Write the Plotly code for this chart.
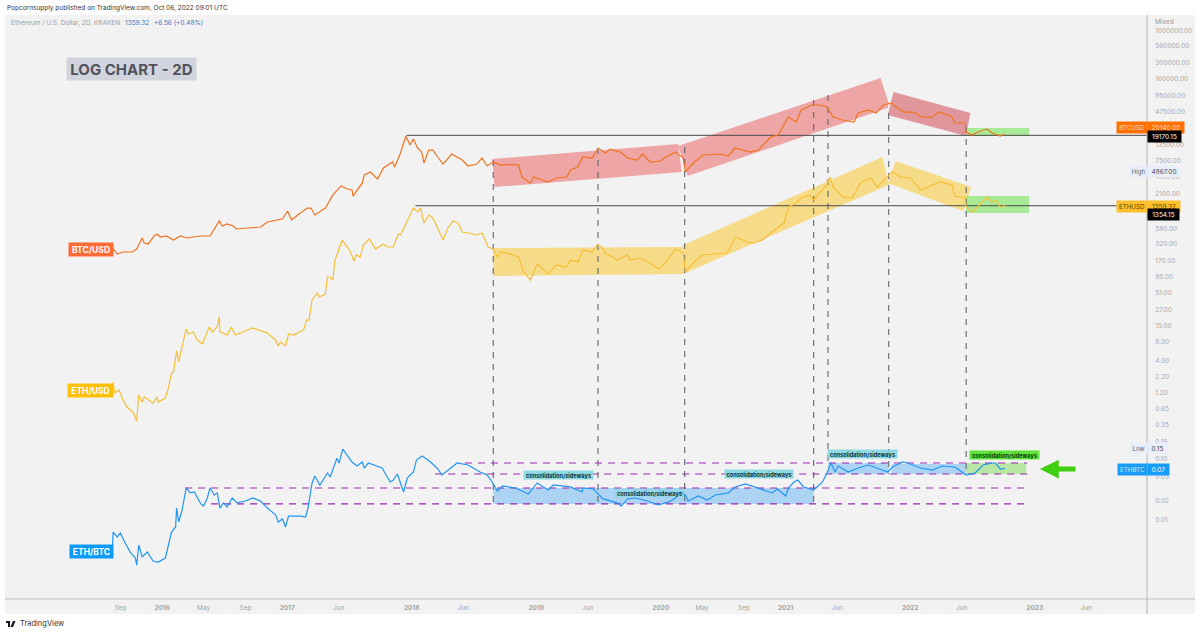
import plotly.graph_objects as go

# values
btc_dates = ["2015-08-09","2015-08-22","2015-09-08","2015-10-05","2015-10-18","2015-11-03","2015-11-09","2015-11-21","2015-12-08","2015-12-17","2015-12-26",
"2016-01-13","2016-02-03","2016-02-23","2016-03-13","2016-04-21","2016-05-20","2016-06-04","2016-06-16","2016-06-25","2016-07-09","2016-07-27","2016-08-05","2016-09-07","2016-10-15","2016-11-04","2016-12-18",
"2017-01-02","2017-01-14","2017-02-01","2017-03-01","2017-03-12","2017-03-23","2017-04-23","2017-05-15","2017-06-08","2017-06-26","2017-07-10","2017-07-13","2017-08-09","2017-08-15","2017-09-02","2017-09-23","2017-10-10","2017-11-06","2017-11-12","2017-11-29","2017-12-15","2017-12-27",
"2018-01-06","2018-01-18","2018-01-30","2018-02-06","2018-02-20","2018-03-04","2018-03-18","2018-04-03","2018-04-28","2018-05-29","2018-06-15","2018-07-11","2018-07-26","2018-08-10","2018-08-28","2018-09-18","2018-10-17","2018-11-10","2018-11-20","2018-12-15","2018-12-24",
"2019-02-05","2019-03-01","2019-04-01","2019-04-11","2019-05-03","2019-05-17","2019-06-14","2019-07-01","2019-07-22","2019-08-06","2019-09-05","2019-09-25","2019-10-24","2019-11-08","2019-12-01","2019-12-31",
"2020-01-15","2020-02-13","2020-03-07","2020-03-13","2020-04-05","2020-05-04","2020-06-24","2020-07-17","2020-08-06","2020-09-20","2020-10-13","2020-11-18","2020-12-10",
"2021-01-09","2021-02-01","2021-02-15","2021-03-07","2021-03-20","2021-04-12","2021-05-02","2021-05-20","2021-06-16","2021-07-20","2021-08-02","2021-09-01","2021-09-23","2021-10-14","2021-11-08","2021-11-13","2021-12-13",
"2022-01-10","2022-02-06","2022-03-05","2022-03-29","2022-05-03","2022-05-12","2022-06-11","2022-06-14","2022-07-01","2022-07-19","2022-08-14","2022-08-29","2022-09-22","2022-10-06"]
btc_close = [275,220,237,237,265,402,333,321,433,467,417,
433,372,433,402,433,433,608,762,631,681,631,564,585,608,734,822,
1110,791,955,1240,1240,955,1240,2030,2850,2540,2450,1950,3190,4300,4820,3700,5610,7020,5820,9850,18700,13300,
16700,11900,10200,6760,11000,11000,8480,6510,9500,7570,6040,6510,8170,6040,7020,6270,6400,6300,3990,3190,3990,
3310,3850,3990,5200,5820,8480,8170,11900,9850,11400,10200,8170,7570,9500,7020,7300,
8480,10200,8170,4820,6760,9150,9500,8810,11900,10200,11000,18000,19400,
38200,31700,49800,55700,60100,60100,55700,38200,34200,31700,44400,49800,44400,60100,64900,60100,46100,
46100,38200,38200,46100,38200,30500,30500,21700,19400,21700,24300,20900,18700,20140]

eth_dates = ["2015-08-09","2015-08-15","2015-08-27","2015-09-08","2015-09-20","2015-10-07","2015-10-18","2015-10-24","2015-11-03","2015-11-09","2015-12-05","2015-12-17","2015-12-20",
"2016-01-10","2016-01-19","2016-01-28","2016-02-03","2016-02-12","2016-02-18","2016-02-28","2016-03-11","2016-03-17","2016-04-01","2016-04-12","2016-04-27","2016-05-18","2016-05-27","2016-06-10","2016-06-16","2016-06-18","2016-07-09","2016-07-21","2016-08-02","2016-09-22","2016-11-04","2016-11-28","2016-12-06","2016-12-12","2016-12-27",
"2017-01-05","2017-01-20","2017-02-18","2017-02-27","2017-03-06","2017-03-15","2017-03-30","2017-04-05","2017-04-23","2017-04-29","2017-05-07","2017-05-15","2017-05-21","2017-05-27","2017-06-11","2017-06-25","2017-07-04","2017-07-16","2017-07-22","2017-08-03","2017-08-12","2017-08-30","2017-09-17","2017-10-10","2017-10-21","2017-11-08","2017-11-23","2017-11-29","2017-12-19",
"2018-01-06","2018-01-18","2018-01-27","2018-02-06","2018-02-20","2018-03-04","2018-04-03","2018-04-17","2018-05-02","2018-05-17","2018-05-29","2018-06-15","2018-07-11","2018-07-26","2018-08-13","2018-08-28","2018-09-09","2018-09-18","2018-10-08","2018-11-10","2018-11-25","2018-12-15",
"2019-01-04","2019-02-05","2019-03-01","2019-03-30","2019-04-11","2019-05-03","2019-05-17","2019-06-14","2019-06-28","2019-07-12","2019-07-22","2019-08-27","2019-09-25","2019-10-03","2019-11-02","2019-12-01","2019-12-25",
"2020-01-15","2020-02-13","2020-03-07","2020-03-13","2020-04-05","2020-05-01","2020-07-14","2020-08-06","2020-09-11","2020-09-30","2020-10-25","2020-11-18","2020-12-27",
"2021-01-09","2021-01-31","2021-02-15","2021-03-11","2021-03-24","2021-04-12","2021-05-02","2021-05-11","2021-05-20","2021-06-18","2021-07-15","2021-08-08","2021-09-07","2021-09-27","2021-10-27","2021-11-10","2021-12-03",
"2022-01-01","2022-02-01","2022-02-24","2022-03-29","2022-05-03","2022-05-12","2022-06-11","2022-06-14","2022-07-04","2022-07-30","2022-08-14","2022-08-29","2022-09-08","2022-09-22","2022-10-06"]
eth_close = [1.77,1.17,1.31,0.90,0.69,0.573,0.408,1.09,0.836,1.01,0.805,1.01,0.836,
0.97,1.42,2.49,2.59,5.71,3.77,6.64,13.1,10.8,11.7,8.63,7.43,14.1,11.7,14.1,20.5,11.7,10.4,14.1,10.4,13.6,11.2,8.63,6.89,8.0,6.89,
10.8,10.4,12.6,18.3,18.3,38.9,50.6,43.6,48.7,92.5,92.5,82.6,175,212,372,286,246,169,212,196,308,387,265,321,286,286,467,450,791,
1240,1070,1240,706,955,853,372,585,762,706,503,485,450,485,286,265,196,237,228,196,112,82.6,
151,104,145,135,175,163,256,237,308,286,228,175,212,175,189,157,125,
157,265,228,112,157,212,228,417,345,333,372,485,706,
1290,1500,1810,2030,1680,2270,2960,3990,2740,1880,1810,3190,3850,2740,3990,4867,3990,
3850,2450,2740,3310,2960,1950,1810,1290,1070,1560,1880,1560,1680,1290,1359.32]

ethbtc_dates = ["2015-08-08","2015-08-10","2015-08-22","2015-08-31","2015-09-14","2015-09-29","2015-10-14","2015-10-18","2015-10-24","2015-11-03","2015-11-18","2015-12-05","2015-12-20",
"2016-01-10","2016-01-19","2016-01-28","2016-02-09","2016-02-12","2016-02-18","2016-02-28","2016-03-11","2016-03-23","2016-04-04","2016-04-23","2016-05-01","2016-05-12","2016-05-20","2016-06-01","2016-06-10","2016-06-18","2016-06-28","2016-07-09","2016-07-24","2016-08-07","2016-09-01","2016-09-22","2016-10-15","2016-11-04","2016-11-28","2016-12-06","2016-12-18","2016-12-27",
"2017-01-05","2017-02-10","2017-02-24","2017-03-03","2017-03-15","2017-03-23","2017-04-07","2017-04-29","2017-05-07","2017-05-27","2017-06-02","2017-06-13","2017-07-10","2017-07-25","2017-08-09","2017-08-15","2017-08-27","2017-10-06","2017-10-30","2017-11-08","2017-11-20","2017-12-08","2017-12-19",
"2018-01-06","2018-01-15","2018-02-01","2018-02-25","2018-03-16","2018-03-31","2018-04-24","2018-05-14","2018-06-15","2018-07-20","2018-08-10","2018-08-25","2018-09-09","2018-09-24","2018-11-01","2018-12-09",
"2019-01-04","2019-02-05","2019-02-20","2019-04-11","2019-05-15","2019-05-18","2019-06-17","2019-07-16","2019-08-27","2019-09-07","2019-09-25","2019-10-19","2019-11-23","2019-12-25",
"2020-01-24","2020-02-13","2020-02-28","2020-03-13","2020-03-21","2020-04-20","2020-05-16","2020-06-09","2020-07-17","2020-08-06","2020-09-05","2020-09-30","2020-10-27","2020-11-23","2020-12-08",
"2021-01-01","2021-01-09","2021-01-25","2021-02-05","2021-02-23","2021-03-24","2021-04-19","2021-05-02","2021-05-14","2021-05-26","2021-06-04","2021-07-03","2021-08-02","2021-09-01","2021-10-01","2021-10-27","2021-11-10","2021-12-10","2021-12-24",
"2022-02-01","2022-03-08","2022-04-04","2022-05-12","2022-05-26","2022-06-14","2022-07-10","2022-08-03","2022-08-29","2022-09-08","2022-09-22","2022-10-06"]
ethbtc_close = [0.0038,0.00625,0.00518,0.00603,0.00413,0.00294,0.00235,0.0018,0.00383,0.00244,0.00294,0.0021,0.00202,
0.00235,0.00383,0.00625,0.00755,0.0154,0.0091,0.0143,0.0328,0.0272,0.0282,0.018,0.0166,0.0225,0.0328,0.0252,0.0272,0.0154,0.0187,0.016,0.0225,0.0187,0.0201,0.0225,0.0201,0.0154,0.0119,0.0091,0.0102,0.00755,
0.0114,0.0114,0.011,0.0154,0.0396,0.0515,0.0367,0.0576,0.0496,0.101,0.084,0.142,0.0873,0.075,0.0873,0.0696,0.084,0.0696,0.0411,0.0443,0.0555,0.0282,0.0478,
0.0598,0.094,0.109,0.0873,0.0696,0.0535,0.0696,0.084,0.0779,0.0598,0.0535,0.0411,0.0293,0.0354,0.0328,0.0262,
0.0396,0.0304,0.0367,0.0341,0.0282,0.0328,0.0316,0.0217,0.0187,0.0166,0.0217,0.0225,0.0201,0.0173,
0.0194,0.0225,0.0282,0.0252,0.0201,0.0243,0.0209,0.0252,0.0272,0.0341,0.0381,0.0341,0.0304,0.0272,0.0316,
0.0243,0.0328,0.0411,0.0443,0.0341,0.0304,0.0411,0.0576,0.084,0.0598,0.075,0.0598,0.0696,0.0779,0.067,0.0598,0.0723,0.0873,0.084,
0.0696,0.0645,0.075,0.0723,0.0645,0.0535,0.0576,0.0779,0.084,0.084,0.067,0.0686]

# drawn bands as (dates, prices, colour)
bands = [
    (["2018-08-25","2020-02-21","2020-03-02","2018-09-01"], [7870,13800,4820,2740], "rgba(230,60,60,0.42)"),
    (["2020-02-21","2021-10-06","2021-10-30","2021-10-27","2020-03-20"], [12800,166000,64900,53700,4150], "rgba(230,60,60,0.42)"),
    (["2021-11-13","2022-06-26","2022-06-14","2021-10-27"], [97900,44400,18700,41200], "rgba(200,40,50,0.45)"),
    (["2018-08-28","2020-03-07","2020-03-10","2018-08-28"], [276,286,104,96], "rgba(250,200,50,0.55)"),
    (["2020-03-07","2021-10-12","2021-10-30","2020-03-13"], [308,8480,2960,108], "rgba(250,200,50,0.55)"),
    (["2021-11-19","2022-06-29","2022-06-05","2021-10-27"], [7300,2740,1110,3190], "rgba(250,200,50,0.55)"),
    (["2022-06-17","2022-12-16","2022-12-16","2022-06-17"], [25300,25300,18700,18700], "rgba(90,225,50,0.48)"),
    (["2022-06-14","2022-12-16","2022-12-16","2022-06-14"], [1950,1950,1030,1030], "rgba(90,225,50,0.48)"),
    (["2018-08-28","2021-03-24","2021-03-24","2018-08-28"], [0.0328,0.0328,0.018,0.018], "rgba(33,150,243,0.33)"),
    (["2021-05-05","2021-10-30","2021-10-30","2021-05-05"], [0.084,0.084,0.0555,0.0555], "rgba(33,150,243,0.33)"),
    (["2021-11-07","2022-06-14","2022-06-14","2021-11-07"], [0.0809,0.0809,0.0555,0.0555], "rgba(33,150,243,0.33)"),
    (["2022-06-14","2022-12-07","2022-12-07","2022-06-14"], [0.084,0.084,0.0555,0.0555], "rgba(110,215,70,0.45)"),
]

level_values = [0.084, 0.0555, 0.0328, 0.018]
level_starts = ["2018-06-06", "2018-03-11", "2016-03-08", "2016-05-23"]
level_end = "2022-12-10"

event_dates = ["2018-08-28","2019-07-01","2020-03-11","2021-03-24","2021-05-05","2021-10-30","2022-06-14"]
event_tops = [7570,11900,12400,72600,87500,44400,26200]
event_bottoms = [0.018,0.018,0.018,0.018,0.084,0.0555,0.0555]

ref_values = [19170.15, 1354.15]
ref_starts = ["2017-12-17", "2018-01-12"]

y_ticks = [1000000,560000,300000,160000,85000,47500,13500,7500,4100,2100,580,320,170,95,51,27,15,8,4,2.2,1.2,0.65,0.35,0.19,0.10,0.05,0.02,0.01]
x_ticks = ["2015-09-01","2016-01-01","2016-05-01","2016-09-01","2017-01-01","2017-06-01","2018-01-01","2018-06-01","2019-01-01","2019-06-01","2020-01-01","2020-05-01","2020-09-01","2021-01-01","2021-06-01","2022-01-01","2022-06-01","2023-01-01","2023-06-01"]
x_labels = ["Sep","<b>2016</b>","May","Sep","<b>2017</b>","Jun","<b>2018</b>","Jun","<b>2019</b>","Jun","<b>2020</b>","May","Sep","<b>2021</b>","Jun","<b>2022</b>","Jun","<b>2023</b>","Jun"]

W, H = 1200, 634
L, R, T, B = 5, 1147, 15, 599
FONT = "Inter, Roboto, sans-serif"


def px(x):
    return (x - L) / (R - L)


def py(y):
    return (B - y) / (B - T)


def label(x0, x1, yc, text, bg, fg, size=6.5, h=11, bold=False):
    return dict(xref="paper", yref="paper", x=px((x0 + x1) / 2), y=py(yc), text=f"<b>{text}</b>" if bold else text,
                showarrow=False, width=x1 - x0, height=h, bgcolor=bg, borderpad=0, align="center",
                font=dict(family=FONT, size=size, color=fg), xanchor="center", yanchor="middle")


def plain(x, yc, text, color, size=6.5, bold=False):
    return dict(xref="paper", yref="paper", x=px(x), y=py(yc), text=f"<b>{text}</b>" if bold else text, showarrow=False,
                font=dict(family=FONT, size=size, color=color), xanchor="left", yanchor="middle", borderpad=0)


def logo_path(cmds):
    # pairs of pixel positions turned into paper fractions
    return " ".join(f"{c}{px(x):.5f},{py(y):.5f}" for c, x, y in cmds) + " Z"


fig = go.Figure()

for dates, prices, color in bands:
    fig.add_trace(go.Scatter(x=dates, y=prices, mode="lines", line=dict(width=0), fill="toself", fillcolor=color, hoverinfo="skip"))

for d, top, bottom in zip(event_dates, event_tops, event_bottoms):
    fig.add_trace(go.Scatter(x=[d, d], y=[top, bottom], mode="lines", line=dict(color="#5f666e", width=1.1, dash="6px,6px")))

for start, value in zip(level_starts, level_values):
    fig.add_trace(go.Scatter(x=[start, level_end], y=[value, value], mode="lines", line=dict(color="#9c27b0", width=1.1, dash="7px,6px")))

for start, value in zip(ref_starts, ref_values):
    fig.add_trace(go.Scatter(x=[start, "2023-11-26"], y=[value, value], mode="lines", line=dict(color="#4a4a4a", width=1)))

fig.add_trace(go.Scatter(x=btc_dates, y=btc_close, mode="lines", name="BTCUSD", line=dict(color="#f0731e", width=1.2)))
fig.add_trace(go.Scatter(x=eth_dates, y=eth_close, mode="lines", name="ETHUSD", line=dict(color="#f6bf36", width=1.2)))
fig.add_trace(go.Scatter(x=ethbtc_dates, y=ethbtc_close, mode="lines", name="ETHBTC", line=dict(color="#2196f3", width=1.2)))

teal = "rgba(125,215,225,0.85)"
notes = [
    label(67, 196, 69, "LOG CHART - 2D", "#d1d4dc", "#50535e", size=15, h=22, bold=True),
    label(69, 113, 249.5, "BTC/USD", "#ff6b35", "#ffffff", size=8.5, h=13, bold=True),
    label(68, 113, 390.5, "ETH/USD", "#ffc107", "#ffffff", size=8.5, h=13, bold=True),
    label(70, 113, 551, "ETH/BTC", "#0f9bf5", "#ffffff", size=8.5, h=13, bold=True),
    label(524, 593, 475, "consolidation/sideways", teal, "#10353a", size=5.6, h=8, bold=True),
    label(615, 684, 493, "consolidation/sideways", "rgba(125,215,225,0.45)", "#10353a", size=5.6, h=8, bold=True),
    label(725, 793, 474, "consolidation/sideways", teal, "#10353a", size=5.6, h=8, bold=True),
    label(828, 897, 454, "consolidation/sideways", teal, "#10353a", size=5.6, h=8, bold=True),
    label(970, 1039, 455, "consolidation/sideways", "#5fe33a", "#0c3a08", size=5.6, h=8, bold=True),
    plain(6, 8, "Popcornsupply published on TradingView.com, Oct 06, 2022 09:01 UTC", "#333333"),
    plain(10, 23, "Ethereum / U.S. Dollar, 2D, KRAKEN", "#a0a0a0"),
    plain(124, 23, "1359.32", "#3b78c4"),
    plain(153, 23, "+6.56 (+0.48%)", "#3b78c4"),
    plain(1154, 22, "Mixed", "#9a9a9a"),
    label(1117, 1147, 127, "BTCUSD", "#ff7000", "#ffd9b8", size=6.2),
    label(1148, 1184, 127, "20140.00", "#ff7000", "#ffd9b8"),
    label(1148, 1181, 136, "19170.15", "#000000", "#ffffff"),
    label(1130, 1147, 171.5, "High", "#e8eef8", "#5a6a80", size=6.2),
    label(1148, 1180, 171.5, "4867.00", "#e8eef8", "#3c4a66"),
    label(1117, 1147, 206, "ETHUSD", "#ffc02e", "#5a3f00", size=6.2),
    label(1148, 1180, 206, "1359.32", "#ffc02e", "#5a3f00"),
    label(1148, 1179, 214.5, "1354.15", "#000000", "#ffffff"),
    label(1130, 1147, 448, "Low", "#e8eef8", "#5a6a80", size=6.2),
    label(1148, 1167, 448, "0.15", "#e8eef8", "#3c4a66"),
    label(1118, 1147, 469, "ETHBTC", "#1a9cf5", "#cfe9ff", size=6.2),
    label(1148, 1169, 469, "0.07", "#1a9cf5", "#ffffff"),
    plain(19, 624, "TradingView", "#333333", size=7.5),
    dict(xref="paper", yref="paper", x=px(1040), y=py(469), ax=37, ay=0, text="", showarrow=True,
         arrowcolor="#3fcf10", arrowwidth=5, arrowhead=2, arrowsize=0.75),
]

lines = [
    dict(type="rect", xref="paper", yref="paper", x0=0, x1=px(1195), y0=py(614), y1=1, fillcolor="#f2f2f2", line_width=0, layer="below"),
    dict(type="line", xref="paper", yref="paper", x0=0, x1=px(1195), y0=0, y1=0, line=dict(color="#c0c0c0", width=1)),
    dict(type="line", xref="paper", yref="paper", x0=1, x1=1, y0=py(614), y1=1, line=dict(color="#b4b4b4", width=1)),
    dict(type="path", xref="paper", yref="paper", fillcolor="#131722", line_width=0,
         path=logo_path([("M", 6, 621), ("L", 10, 621), ("L", 10, 627), ("L", 8, 627), ("L", 8, 623), ("L", 6, 623)])),
    dict(type="path", xref="paper", yref="paper", fillcolor="#131722", line_width=0,
         path=logo_path([("M", 13, 621), ("L", 15.5, 621), ("L", 13, 627), ("L", 10.5, 627)])),
]

fig.update_layout(
    width=W, height=H, showlegend=False, hovermode=False,
    margin=dict(l=L, r=W - R, t=T, b=H - B, pad=0),
    paper_bgcolor="#ffffff", plot_bgcolor="#f2f2f2",
    annotations=notes, shapes=lines,
    xaxis=dict(type="date", range=["2014-09-27", "2023-11-26"], showgrid=False, zeroline=False, showline=False,
               tickmode="array", tickvals=x_ticks, ticktext=x_labels, tickangle=0, ticks="outside", ticklen=2, tickcolor="rgba(0,0,0,0)",
               tickfont=dict(family=FONT, size=6.5, color="#a4a4a4")),
    yaxis=dict(type="log", range=[-3.2996, 6.2506], side="right", showgrid=False, zeroline=False, showline=False,
               tickmode="array", tickvals=y_ticks, ticktext=[f"{v:.2f}" for v in y_ticks], ticks="outside", ticklen=6, tickcolor="rgba(0,0,0,0)",
               tickfont=dict(family=FONT, size=6.5, color="#a8a8a8")),
)

fig.write_html("out.html", config={"displayModeBar": False}, post_script="document.body.style.margin='0';")
